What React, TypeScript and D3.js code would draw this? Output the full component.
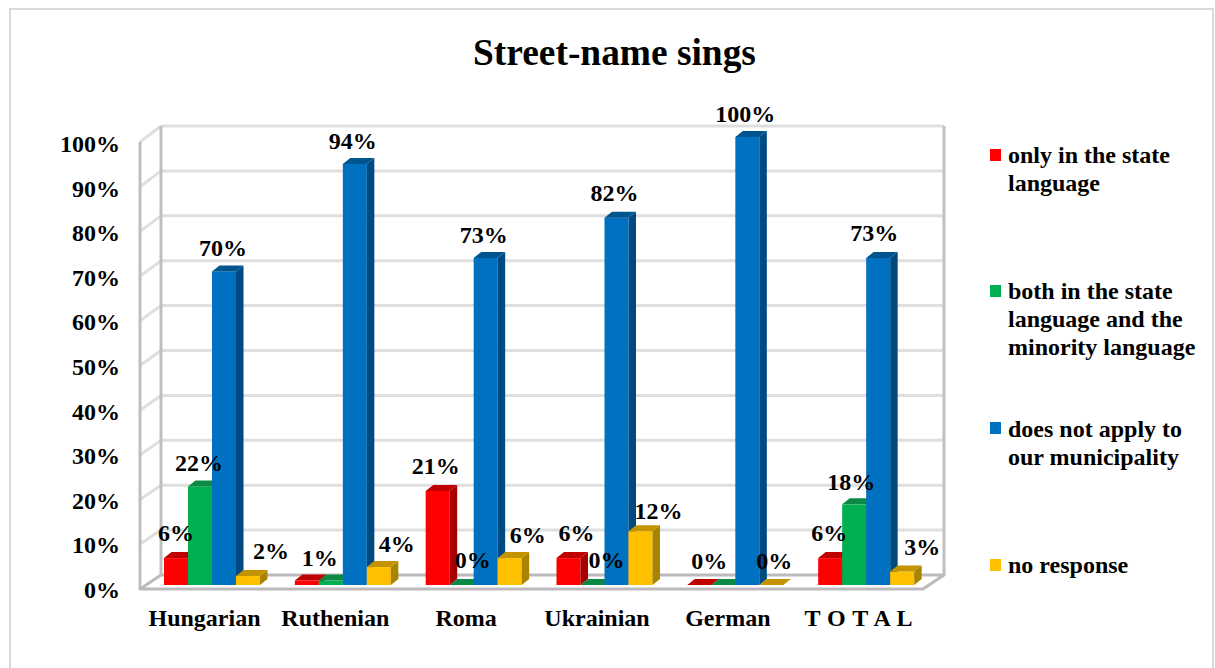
import React from "react";
import * as d3 from "d3";

const categories = ["Hungarian", "Ruthenian", "Roma", "Ukrainian", "German", "T O T A L"];
const seriesNames = ["only", "both", "none", "noResponse"];
const onlyState = [6, 1, 21, 6, 0, 6];
const bothLanguages = [22, 1, 0, 0, 0, 18];
const doesNotApply = [70, 94, 73, 82, 100, 73];
const noResponse = [2, 4, 6, 12, 0, 3];
const yTicks = [0, 10, 20, 30, 40, 50, 60, 70, 80, 90, 100];
const legendLabels = [
  ["only in the state", "language"],
  ["both in the state", "language and the", "minority language"],
  ["does not apply to", "our municipality"],
  ["no response"],
];

const W = 1215;
const H = 668;
const FONT = "'Liberation Serif', 'Times New Roman', serif";

const series = [onlyState, bothLanguages, doesNotApply, noResponse];
const fronts = ["#ff0000", "#00b050", "#0070c0", "#ffc000"];
const tops = ["#c00000", "#0a8a45", "#00558f", "#c49300"];
const sides = ["#a80000", "#077a3c", "#004a82", "#a88400"];
const legendColors = fronts;

// Bar fronts sit on the near floor edge; the walls are offset by the box depth.
const yBar = d3.scaleLinear().domain([0, 100]).range([585, 137]);
const yBack = d3.scaleLinear().domain([0, 100]).range([575, 126]);
const yFront = d3.scaleLinear().domain([0, 100]).range([589, 142]);
const yTickText = d3.scaleLinear().domain([0, 100]).range([598, 152]);
const xGroup = d3.scaleBand<number>().domain(d3.range(6)).range([147, 932]).paddingInner(0).paddingOuter(0);
const xSeries = d3.scaleBand<number>().domain(d3.range(4)).range([17, 113]);
const DX = 7.5;
const DY = 6;

// Per-label placement tweaks [dx, baseline above the bar top]; null hides a label.
const labelPlace: ([number, number] | null)[][] = [
  [[0, 17], [-1, 15], [-1, 15], [23, 17]],
  [[13, 15], null, [-2, 15], [18, 15]],
  [[-2, 17], [11, 17], [-2, 15], [18, 15]],
  [[8, 17], [14, 17], [-2, 17], [18, 12]],
  [[10, 16], null, [-2, 15], [3, 16]],
  [[-1, 17], [-3, 14], [-4, 17], [20, 17]],
];

function Column({ x, w, v, s }: { x: number; w: number; v: number; s: number }) {
  const top = yBar(v);
  const bottom = yBar(0);
  const topPath = `M${x},${top}L${x + DX},${top - DY}L${x + w + DX},${top - DY}L${x + w},${top}Z`;
  const sidePath = `M${x + w},${top}L${x + w + DX},${top - DY}L${x + w + DX},${bottom - DY}L${x + w},${bottom}Z`;
  return (
    <g>
      {v > 0 && <rect x={x} y={top} width={w} height={bottom - top} fill={fronts[s]} />}
      <path d={sidePath} fill={sides[s]} />
      <path d={topPath} fill={tops[s]} />
    </g>
  );
}

export default function App() {
  const textStyle = { fontFamily: FONT, fontWeight: 700, fill: "#000" } as const;
  const legendTop = [163, 299, 437, 573];
  const legendSquare = [149, 285, 422, 559];
  return (
    <svg
      width={W}
      height={H}
      viewBox={`0 0 ${W} ${H}`}
      style={{ position: "absolute", left: 0, top: 0, background: "#fff" }}
    >
      <rect x={10} y={9} width={1203} height={H + 20} fill="#fff" stroke="#d9d9d9" strokeWidth={2} />
      <text x={614.5} y={65} textAnchor="middle" fontSize={37.4} style={textStyle}>
        Street-name sings
      </text>

      {/* Box walls and floor */}
      <g fill="none">
        {yTicks.map((t) => (
          <g key={t} stroke="#dfdfdf" strokeWidth={3}>
            {t > 0 && <line x1={161} x2={944} y1={yBack(t)} y2={yBack(t)} />}
            {t > 0 && <line x1={140} x2={161} y1={yFront(t)} y2={yBack(t)} />}
          </g>
        ))}
        <path d={`M140,${yFront(100)}L140,${yFront(0)}`} stroke="#bfbfbf" strokeWidth={3} />
        <path d={`M161,${yBack(100)}L161,${yBack(0)}`} stroke="#bfbfbf" strokeWidth={3} />
        <path d={`M944,${yBack(100)}L944,${yBack(0)}`} stroke="#bfbfbf" strokeWidth={3} />
        <path
          d={`M140,${yFront(0)}L923,${yFront(0)}L944,${yBack(0)}L161,${yBack(0)}Z`}
          stroke="#bdb9bd"
          strokeWidth={3}
          fill="#fff"
          strokeLinejoin="round"
        />
      </g>

      {/* Columns */}
      {categories.map((_, c) =>
        seriesNames.map((name, s) => (
          <Column
            key={`${c}-${name}`}
            x={(xGroup(c) as number) + (xSeries(s) as number)}
            w={xSeries.bandwidth()}
            v={series[s][c]}
            s={s}
          />
        ))
      )}

      {/* Value labels */}
      {categories.map((_, c) =>
        seriesNames.map((name, s) => {
          const place = labelPlace[c][s];
          if (!place) return null;
          const cx = (xGroup(c) as number) + (xSeries(s) as number) + xSeries.bandwidth() / 2;
          return (
            <text
              key={`${c}-${name}`}
              x={cx + place[0]}
              y={yBar(series[s][c]) - place[1]}
              textAnchor="middle"
              fontSize={24}
              style={textStyle}
            >
              {series[s][c]}%
            </text>
          );
        })
      )}

      {/* Value axis */}
      {yTicks.map((t) => (
        <text key={t} x={120} y={yTickText(t)} textAnchor="end" fontSize={24} style={textStyle}>
          {t}%
        </text>
      ))}

      {/* Category axis */}
      {categories.map((c, i) => (
        <text
          key={c}
          x={(xGroup(i) as number) + 57.5}
          y={626}
          textAnchor="middle"
          fontSize={24}
          letterSpacing={c.includes(" ") ? 0.5 : 0}
          style={textStyle}
        >
          {c}
        </text>
      ))}

      {/* Legend */}
      {legendLabels.map((lines, i) => (
        <g key={i}>
          <rect x={990} y={legendSquare[i]} width={11} height={12} fill={legendColors[i]} />
          {lines.map((line, j) => (
            <text key={j} x={1008} y={legendTop[i] + j * 28} fontSize={24} style={textStyle}>
              {line}
            </text>
          ))}
        </g>
      ))}
    </svg>
  );
}
